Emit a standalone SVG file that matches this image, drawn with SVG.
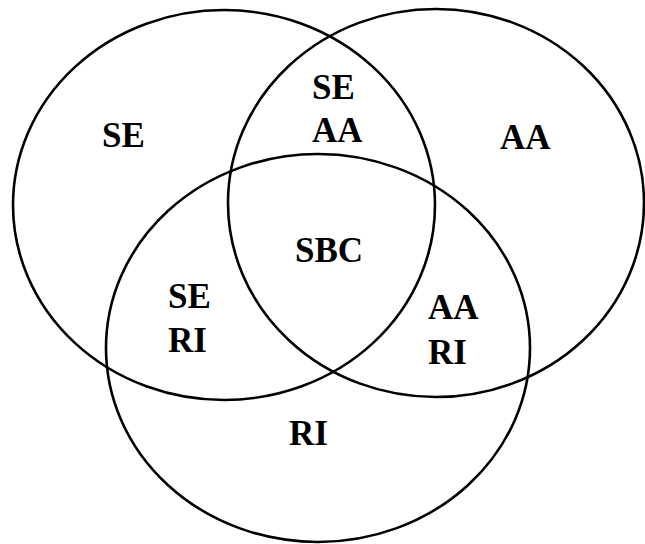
<svg xmlns="http://www.w3.org/2000/svg" width="645" height="544" viewBox="0 0 645 544">
  <style>
    .set { fill: none; stroke: #000; stroke-width: 2.6; }
    .lbl { font-family: "Liberation Serif", "Times New Roman", serif; font-weight: bold; font-size: 35px; fill: #000; }
  </style>
  <rect width="645" height="544" fill="#fff"/>
  <!-- the three overlapping sets -->
  <g id="circles">
    <ellipse id="set-se" class="set" cx="224" cy="205" rx="211" ry="195"/>
    <ellipse id="set-aa" class="set" cx="436" cy="203" rx="208" ry="194"/>
    <ellipse id="set-ri" class="set" cx="318" cy="348" rx="212" ry="194"/>
  </g>
  <!-- region labels -->
  <g id="region-se"><text class="lbl" x="102" y="147">SE</text></g>
  <g id="region-se-aa">
    <text class="lbl" x="312" y="99">SE</text>
    <text class="lbl" x="312" y="142">AA</text>
  </g>
  <g id="region-aa"><text class="lbl" x="500" y="149">AA</text></g>
  <g id="region-sbc"><text class="lbl" x="295" y="262">SBC</text></g>
  <g id="region-se-ri">
    <text class="lbl" x="168" y="308">SE</text>
    <text class="lbl" x="168" y="352">RI</text>
  </g>
  <g id="region-aa-ri">
    <text class="lbl" x="428" y="319">AA</text>
    <text class="lbl" x="428" y="364">RI</text>
  </g>
  <g id="region-ri"><text class="lbl" x="289" y="445">RI</text></g>
</svg>
